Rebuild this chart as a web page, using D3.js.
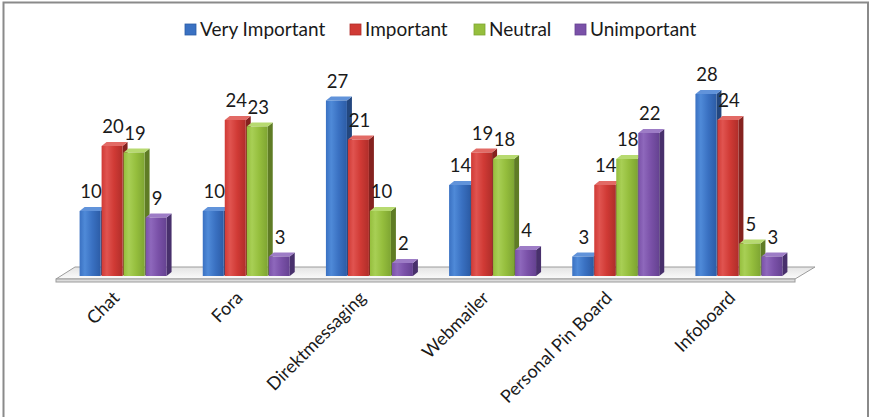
<!DOCTYPE html>
<html>
<head>
<meta charset="utf-8">
<script src="https://cdn.jsdelivr.net/npm/d3@7"></script>
<style>
  body { margin: 0; background: #fff; }
  svg { display: block; }
  text { font-family: Lato, "Open Sans", "Noto Sans", sans-serif; fill: #1a1a1a; }
</style>
</head>
<body>
<svg id="chart" width="869" height="417"></svg>
<script>
// Survey results: importance rating of communication features
const categories = ["Chat", "Fora", "Direktmessaging", "Webmailer", "Personal Pin Board", "Infoboard"];
const seriesNames = ["Very Important", "Important", "Neutral", "Unimportant"];
const veryImportant = [10, 10, 27, 14, 3, 28];
const important = [20, 24, 21, 19, 14, 24];
const neutral = [19, 23, 10, 18, 18, 5];
const unimportant = [9, 3, 2, 4, 22, 3];
const seriesValues = [veryImportant, important, neutral, unimportant];

// Face colours per series: light edge, front, dark edge, side, top
const palette = [
  { light: "#4f8ad8", front: "#3a71c2", dark: "#2c5ca6", side: "#23477f", top: "#6193da" },
  { light: "#e05450", front: "#d03a35", dark: "#b02e2a", side: "#85221f", top: "#e26a65" },
  { light: "#a8cf55", front: "#95be3d", dark: "#7ea532", side: "#5f7c25", top: "#b7da70" },
  { light: "#8e68bc", front: "#7a51a8", dark: "#654291", side: "#48306c", top: "#9d7cc6" }
];

const svg = d3.select("#chart");
const defs = svg.append("defs");

palette.forEach((c, i) => {
  const g = defs.append("linearGradient").attr("id", "front" + i)
    .attr("x1", "0").attr("x2", "1").attr("y1", "0").attr("y2", "0");
  g.append("stop").attr("offset", "0").attr("stop-color", c.front);
  g.append("stop").attr("offset", "0.25").attr("stop-color", c.light);
  g.append("stop").attr("offset", "0.6").attr("stop-color", c.front);
  g.append("stop").attr("offset", "1").attr("stop-color", c.dark);
});

const floorGrad = defs.append("linearGradient").attr("id", "floorGrad")
  .attr("x1", "0").attr("x2", "0").attr("y1", "0").attr("y2", "1");
floorGrad.append("stop").attr("offset", "0").attr("stop-color", "#e4e4e4");
floorGrad.append("stop").attr("offset", "1").attr("stop-color", "#fbfbfb");

// Outer frame
svg.append("rect")
  .attr("x", 3.5).attr("y", 2.5).attr("width", 864.5).attr("height", 430)
  .attr("fill", "none").attr("stroke", "#8a8a8a").attr("stroke-width", 2);

// Scales
const base = 276;
const y = d3.scaleLinear().domain([0, 30]).range([base, 81]);
const x0 = d3.scaleBand().domain(categories).range([62, 801])
  .paddingInner(0.2857).paddingOuter(0.14285);
const x1 = d3.scaleBand().domain(seriesNames).range([0, x0.bandwidth()]);

const depthX = 5, depthY = 4;

// Floor
const floorL = 56, floorR = 795, floorFront = 279, floorBack = 267, floorShift = 19;
svg.append("path")
  .attr("d", `M${floorL},${floorFront} L${floorL + floorShift},${floorBack} L${floorR + floorShift + 1},${floorBack} L${floorR},${floorFront} Z`)
  .attr("fill", "url(#floorGrad)").attr("stroke", "#9c9c9c").attr("stroke-width", 1);
svg.append("rect")
  .attr("x", floorL).attr("y", floorFront).attr("width", floorR - floorL).attr("height", 3)
  .attr("fill", "#dcdcdc").attr("stroke", "#9c9c9c").attr("stroke-width", 1);

// Bars
const barW = x1.bandwidth() - 1;
categories.forEach((cat, ci) => {
  const g = svg.append("g");
  seriesNames.forEach((s, si) => {
    const v = seriesValues[si][ci];
    const bx = x0(cat) + x1(s);
    const by = y(v);
    const c = palette[si];
    // side face
    g.append("path")
      .attr("d", `M${bx + barW},${by} L${bx + barW + depthX},${by - depthY} L${bx + barW + depthX},${base - depthY} L${bx + barW},${base} Z`)
      .attr("fill", c.side);
    // top face
    g.append("path")
      .attr("d", `M${bx},${by} L${bx + depthX},${by - depthY} L${bx + barW + depthX},${by - depthY} L${bx + barW},${by} Z`)
      .attr("fill", c.top);
    // front face
    g.append("rect")
      .attr("x", bx).attr("y", by).attr("width", barW).attr("height", base - by)
      .attr("fill", `url(#front${si})`);
  });
});

// Value labels
categories.forEach((cat, ci) => {
  seriesNames.forEach((s, si) => {
    const v = seriesValues[si][ci];
    svg.append("text")
      .attr("x", x0(cat) + x1(s) + barW / 2 + 1)
      .attr("y", y(v) - 13)
      .attr("text-anchor", "middle")
      .attr("font-size", 18.5)
      .text(v);
  });
});

// Category labels, rotated
categories.forEach(cat => {
  const cx = x0(cat) + x0.bandwidth() / 2 - 3;
  svg.append("text")
    .attr("transform", `translate(${cx},299) rotate(-45)`)
    .attr("text-anchor", "end")
    .attr("font-size", 18)
    .text(cat);
});

// Legend
const legendX = [185, 350, 474, 575];
const legend = svg.append("g");
seriesNames.forEach((s, i) => {
  const c = palette[i];
  legend.append("rect")
    .attr("x", legendX[i]).attr("y", 24).attr("width", 11).attr("height", 11)
    .attr("fill", c.front).attr("stroke", c.dark).attr("stroke-width", 0.8);
  legend.append("text")
    .attr("x", legendX[i] + 15).attr("y", 36)
    .attr("font-size", 19)
    .text(s);
});
</script>
</body>
</html>
